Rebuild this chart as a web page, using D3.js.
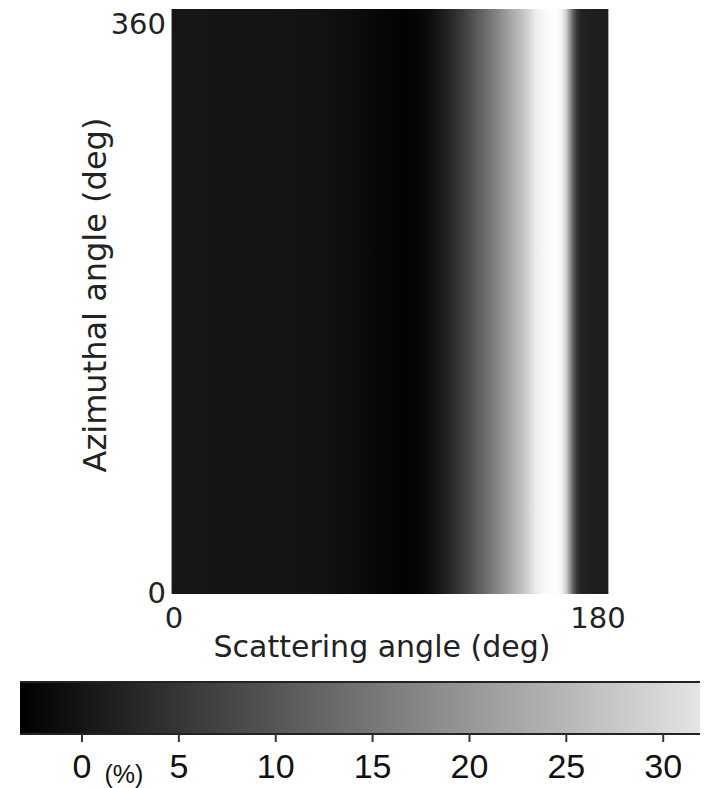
<!DOCTYPE html>
<html>
<head>
<meta charset="utf-8">
<script src="https://cdn.jsdelivr.net/npm/d3@7"></script>
<style>
  html, body { margin: 0; padding: 0; background: #fff; }
  svg { display: block; }
</style>
</head>
<body>
<div id="chart"></div>
<script>
(function (d3) {
    'use strict';

    // scattering angle (deg) and intensity (%) -- constant along azimuth
    var scatterAngles = [0, 10, 20, 30, 40, 50, 60, 70, 80, 85, 90, 95, 100, 105, 110, 115, 120, 125,
        130, 135, 140, 145, 150, 153, 156, 159, 161, 163, 165, 167, 169, 172, 176, 180];
    var intensity = [0.2, 0.2, 0.1, 0.0, -0.1, -0.2, -0.4, -0.9, -1.6, -2.1, -2.5, -2.8, -2.6, -1.6, 0.3, 3.0, 6.2, 9.8,
        13.8, 18.0, 22.5, 27.0, 33.0, 34.8, 35.5, 35.5, 34.0, 27.0, 14.0, 5.0, 2.2, 1.5, 1.4, 1.4];

    var xTicks = [0, 180],
        yTicks = [0, 360],
        barTicks = [0, 5, 10, 15, 20, 25, 30],
        barRange = [-3.2, 31.9],
        colorDomain = [-3.2, 36];

    var width = 708, height = 788;
    var plot = {left: 172, right: 608, top: 9, bottom: 594};
    var bar = {left: 20, right: 700, top: 682, bottom: 734};

    var x = d3.scaleLinear().domain([0, 180]).range([plot.left, plot.right]);
    var y = d3.scaleLinear().domain([0, 360]).range([plot.bottom, plot.top]);
    var color = d3.scaleLinear().domain(colorDomain).range(['#000', '#fff']).clamp(true);
    var xBar = d3.scaleLinear().domain(barRange).range([bar.left, bar.right]);

    var svg = d3.select('#chart').append('svg')
        .attr('width', width)
        .attr('height', height);
    var defs = svg.append('defs');

    // one cell per angle interval, shaded between its two end values
    var cells = d3.range(scatterAngles.length - 1).map(function (i) {
        return {a0: scatterAngles[i], a1: scatterAngles[i + 1], v0: intensity[i], v1: intensity[i + 1], i: i};
    });

    defs.selectAll('linearGradient.cell')
        .data(cells)
        .enter().append('linearGradient')
        .attr('class', 'cell')
        .attr('id', function (d) { return 'cell' + d.i; })
        .attr('x1', '0%').attr('x2', '100%').attr('y1', '0%').attr('y2', '0%')
        .each(function (d) {
            var g = d3.select(this);
            g.append('stop').attr('offset', '0%').attr('stop-color', color(d.v0));
            g.append('stop').attr('offset', '100%').attr('stop-color', color(d.v1));
        });

    svg.append('g').selectAll('rect')
        .data(cells)
        .enter().append('rect')
        .attr('x', function (d) { return x(d.a0); })
        .attr('y', y(360))
        .attr('width', function (d) { return x(d.a1) - x(d.a0) + 0.5; })
        .attr('height', y(0) - y(360))
        .attr('fill', function (d) { return 'url(#cell' + d.i + ')'; })
        .attr('shape-rendering', 'crispEdges');

    // thin frame lines at the sides
    svg.append('line').attr('x1', plot.left - 0.5).attr('x2', plot.left - 0.5)
        .attr('y1', plot.top).attr('y2', plot.bottom).attr('stroke', '#999').attr('stroke-width', 1);
    svg.append('line').attr('x1', plot.right + 0.5).attr('x2', plot.right + 0.5)
        .attr('y1', plot.top).attr('y2', plot.bottom).attr('stroke', '#aaa').attr('stroke-width', 1);

    var tickFont = 'DejaVu Sans, sans-serif';

    svg.append('g').selectAll('text')
        .data(yTicks)
        .enter().append('text')
        .attr('x', plot.left - 6)
        .attr('y', function (d) { return d === 360 ? y(d) + 25 : y(d) + 9; })
        .attr('text-anchor', 'end')
        .attr('font-family', tickFont)
        .attr('font-size', 29)
        .attr('fill', '#222')
        .text(function (d) { return d; });

    svg.append('g').selectAll('text')
        .data(xTicks)
        .enter().append('text')
        .attr('x', function (d) { return d === 180 ? x(d) - 10 : x(d) + 2; })
        .attr('y', plot.bottom + 34)
        .attr('text-anchor', 'middle')
        .attr('font-family', tickFont)
        .attr('font-size', 29)
        .attr('fill', '#222')
        .text(function (d) { return d; });

    svg.append('text')
        .attr('x', 382)
        .attr('y', 657)
        .attr('text-anchor', 'middle')
        .attr('font-family', tickFont)
        .attr('font-size', 30)
        .attr('fill', '#222')
        .text('Scattering angle (deg)');

    svg.append('text')
        .attr('transform', 'translate(106,295) rotate(-90)')
        .attr('text-anchor', 'middle')
        .attr('font-family', tickFont)
        .attr('font-size', 32)
        .attr('fill', '#222')
        .text('Azimuthal angle (deg)');

    // colour bar
    var barGrad = defs.append('linearGradient')
        .attr('id', 'barGrad')
        .attr('x1', '0%').attr('x2', '100%').attr('y1', '0%').attr('y2', '0%');
    barGrad.selectAll('stop')
        .data(barRange)
        .enter().append('stop')
        .attr('offset', function (d, i) { return i ? '100%' : '0%'; })
        .attr('stop-color', function (d) { return color(d); });

    svg.append('rect')
        .attr('x', bar.left).attr('y', bar.top)
        .attr('width', bar.right - bar.left).attr('height', bar.bottom - bar.top)
        .attr('fill', 'url(#barGrad)');
    svg.append('line').attr('x1', bar.left).attr('x2', bar.right)
        .attr('y1', bar.top).attr('y2', bar.top).attr('stroke', '#222').attr('stroke-width', 2);
    svg.append('line').attr('x1', bar.left).attr('x2', bar.right)
        .attr('y1', bar.bottom).attr('y2', bar.bottom).attr('stroke', '#222').attr('stroke-width', 2);

    var barAxis = svg.append('g');
    barAxis.selectAll('line')
        .data(barTicks)
        .enter().append('line')
        .attr('x1', function (d) { return xBar(d); })
        .attr('x2', function (d) { return xBar(d); })
        .attr('y1', bar.bottom).attr('y2', bar.bottom + 8)
        .attr('stroke', '#333').attr('stroke-width', 2);
    barAxis.selectAll('text')
        .data(barTicks)
        .enter().append('text')
        .attr('x', function (d) { return xBar(d); })
        .attr('y', 778)
        .attr('text-anchor', 'middle')
        .attr('font-family', 'Liberation Sans, Arial, sans-serif')
        .attr('font-size', 34)
        .attr('fill', '#111')
        .text(function (d) { return d; });

    svg.append('text')
        .attr('x', 124)
        .attr('y', 783)
        .attr('text-anchor', 'middle')
        .attr('font-family', 'Liberation Sans, Arial, sans-serif')
        .attr('font-size', 25)
        .attr('fill', '#111')
        .text('(%)');
})(d3);
</script>
</body>
</html>
